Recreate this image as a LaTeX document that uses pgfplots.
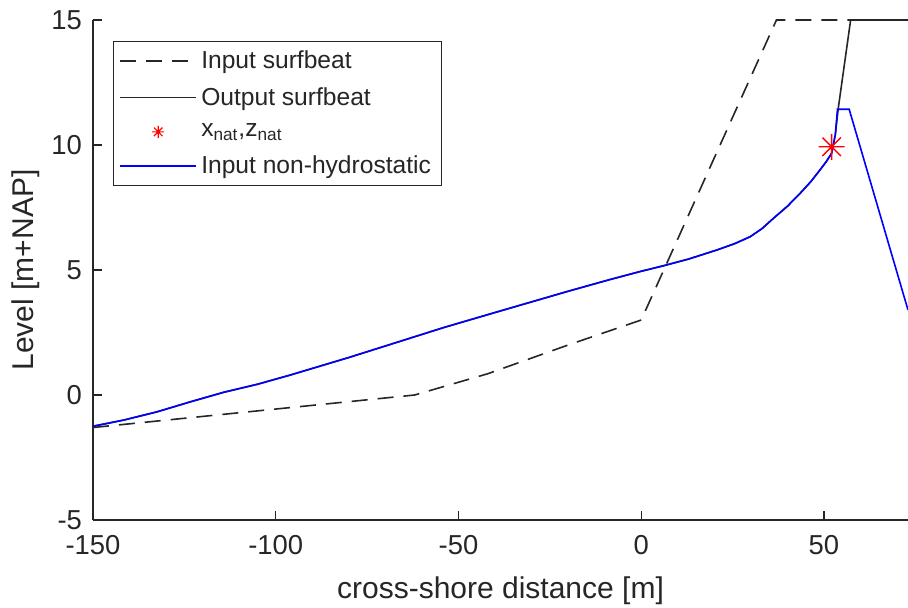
\documentclass[border=0pt]{standalone}
\usepackage{fontspec}
\setmainfont{Liberation Sans}
\usepackage{pgfplots}
\pgfplotsset{compat=1.18}
\definecolor{axgray}{rgb}{0.15,0.15,0.15}
\pgfdeclareplotmark{mstar}{%
  \pgfpathmoveto{\pgfqpoint{-\pgfplotmarksize}{0pt}}\pgfpathlineto{\pgfqpoint{\pgfplotmarksize}{0pt}}%
  \pgfpathmoveto{\pgfqpoint{0pt}{-\pgfplotmarksize}}\pgfpathlineto{\pgfqpoint{0pt}{\pgfplotmarksize}}%
  \pgfpathmoveto{\pgfqpoint{-0.707\pgfplotmarksize}{-0.707\pgfplotmarksize}}\pgfpathlineto{\pgfqpoint{0.707\pgfplotmarksize}{0.707\pgfplotmarksize}}%
  \pgfpathmoveto{\pgfqpoint{-0.707\pgfplotmarksize}{0.707\pgfplotmarksize}}\pgfpathlineto{\pgfqpoint{0.707\pgfplotmarksize}{-0.707\pgfplotmarksize}}%
  \pgfusepathqstroke}
\begin{document}
\begin{tikzpicture}
\begin{axis}[
  scale only axis,
  width=407.5pt, height=250pt,
  xmin=-150, xmax=73, ymin=-5, ymax=15,
  axis x line*=bottom, axis y line*=left,
  axis line style={axgray, line width=0.6pt},
  tick align=inside,
  major tick length=4.5pt,
  tick style={axgray, line width=0.6pt},
  xtick={-150,-100,-50,0,50},
  xticklabels={-150,-100,-50,0,50},
  ytick={-5,0,5,10,15},
  yticklabels={-5,0,5,10,15},
  tick label style={font=\fontsize{13.7}{16}\selectfont, text=axgray},
  xticklabel style={yshift=-4pt},
  yticklabel style={xshift=-2pt},
  xlabel={cross-shore distance [m]},
  ylabel={Level [m+NAP]},
  every axis x label/.style={at={(axis description cs:0.5,-0.156)}, anchor=base, font=\fontsize{15}{18}\selectfont, text=axgray},
  every axis y label/.style={at={(axis description cs:-0.0822,0.5)}, anchor=center, rotate=90, font=\fontsize{15}{18}\selectfont, text=axgray},
  clip=false,
  legend cell align=left,
  legend style={at={(axis description cs:0.0245,0.958)}, anchor=north west,
    draw=axgray, line width=0.6pt, fill=white,
    font=\fontsize{12.3}{14}\selectfont, text=axgray,
    row sep=3.9pt, column sep=0pt, inner xsep=3pt, inner ysep=2.5pt,
    nodes={inner xsep=2.2pt}},
  legend image code/.code={\draw[mark repeat=2, mark phase=2, #1] plot coordinates {(0cm,0cm) (0.665cm,0cm) (1.33cm,0cm)};},
]
% Input surfbeat (dashed)
\addplot[black!85, line width=0.8pt, dash pattern=on 8pt off 5pt] coordinates {
(-150,-1.3) (-62,0) (-42,0.85) (-20,2.0) (0,3) (37,15) (73,15)};
\addlegendentry{Input surfbeat}
% Output surfbeat (solid)
\addplot[black!85, line width=0.8pt] coordinates {
(-150,-1.25) (-141.5,-1.0) (-132.4,-0.67) (-123.3,-0.27) (-114.2,0.11) (-105,0.43) (-96,0.8)
(-80,1.5) (-67,2.1) (-54,2.7) (-40,3.3) (-20,4.15) (-8.5,4.62) (0,4.95) (6.1,5.17)
(13,5.44) (20.7,5.8) (25.5,6.05) (29.8,6.33) (33,6.65) (36.2,7.07) (40,7.55) (43.5,8.07)
(46.5,8.55) (48.9,9.0) (50.7,9.35) (52.1,9.67) (53.1,10.4) (53.9,11.45) (57.3,15) (73,15)};
\addlegendentry{Output surfbeat}
\addlegendimage{only marks, mark=mstar, red, mark size=3pt, line width=0.6pt}
\addlegendentry{x\textsubscript{nat},z\textsubscript{nat}}
% Input non-hydrostatic
\addplot[blue, line width=0.8pt] coordinates {
(-150,-1.25) (-141.5,-1.0) (-132.4,-0.67) (-123.3,-0.27) (-114.2,0.11) (-105,0.43) (-96,0.8)
(-80,1.5) (-67,2.1) (-54,2.7) (-40,3.3) (-20,4.15) (-8.5,4.62) (0,4.95) (6.1,5.17)
(13,5.44) (20.7,5.8) (25.5,6.05) (29.8,6.33) (33,6.65) (36.2,7.07) (40,7.55) (43.5,8.07)
(46.5,8.55) (48.9,9.0) (50.7,9.35) (52.1,9.67) (53.1,10.4) (53.7,11.43) (56.9,11.43) (73,3.4)};
\addlegendentry{Input non-hydrostatic}
% nat point
\addplot[forget plot, only marks, mark=mstar, red, mark size=6.5pt, line width=0.7pt] coordinates {(52.1,9.93)};
\end{axis}
\pgfresetboundingbox
\path[use as bounding box] (-46.5pt,-43.5pt) rectangle (407.5pt,260pt);
\end{tikzpicture}
\end{document}
